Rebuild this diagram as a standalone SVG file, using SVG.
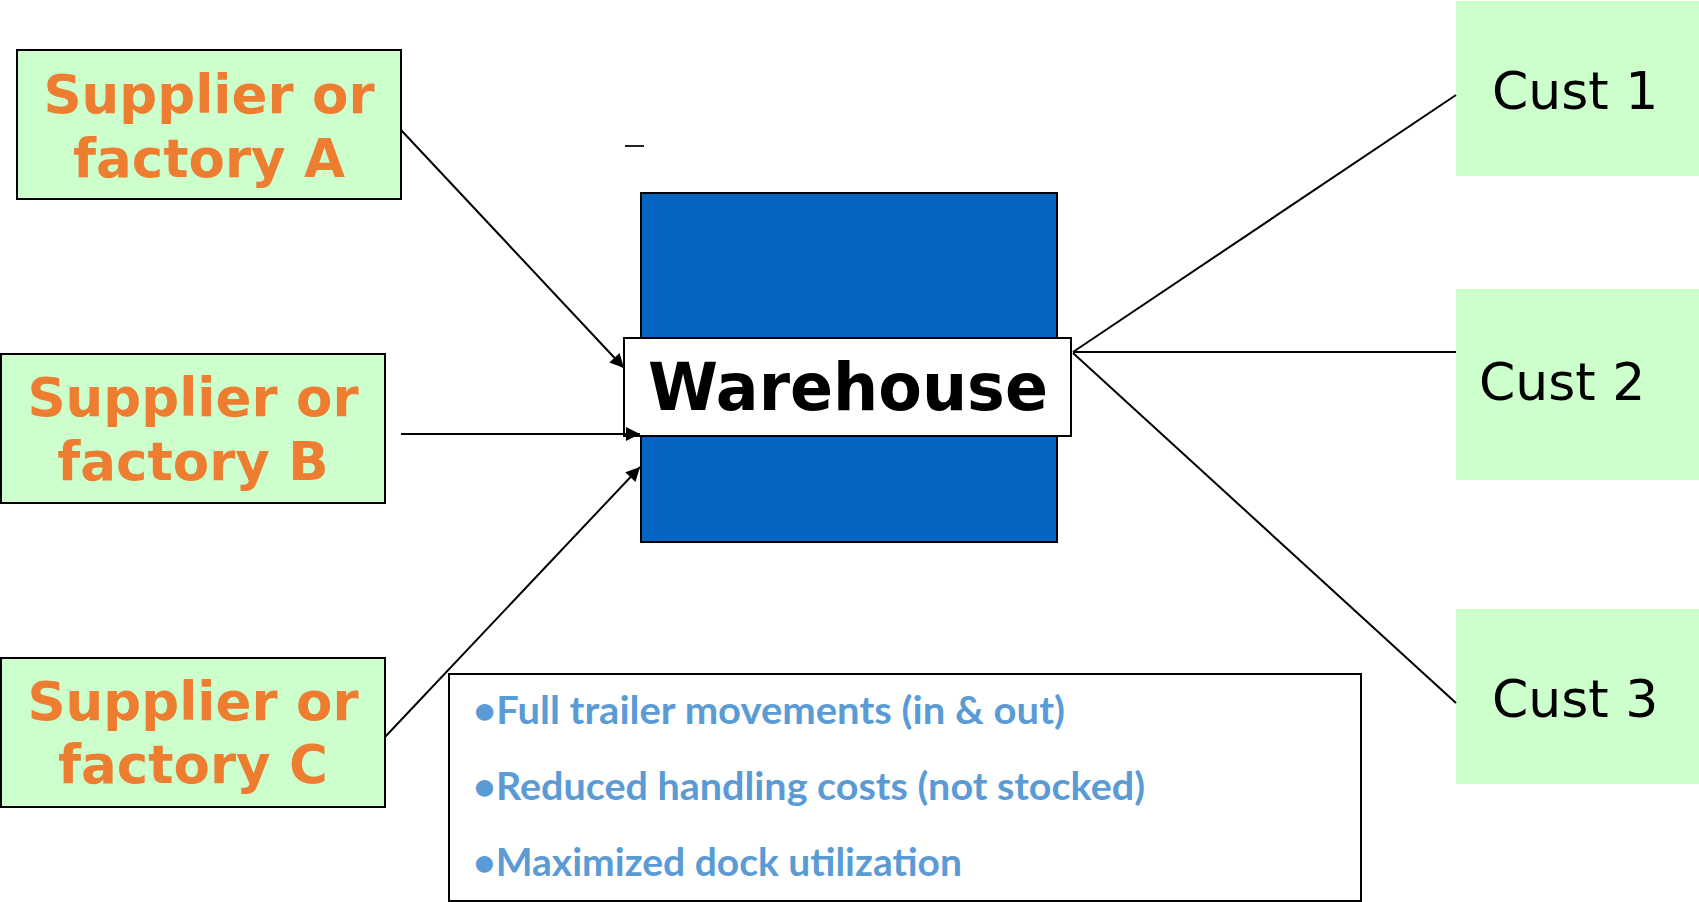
<svg xmlns="http://www.w3.org/2000/svg" width="1699" height="902" viewBox="0 0 1699 902">
<style>
.sup{fill:#CCFFCC;stroke:#000;stroke-width:2}
.cust{fill:#CCFFCC;stroke:none}
.st{font-family:"DejaVu Sans","Verdana",sans-serif;font-weight:bold;font-size:53px;fill:#ED7D31;text-anchor:middle}
.ct{font-family:"DejaVu Sans","Verdana",sans-serif;font-size:52px;fill:#000}
.bt{font-family:Lato,"Open Sans",sans-serif;font-weight:bold;font-size:39px;fill:#5B9BD5}
.conn{stroke:#000;stroke-width:2;fill:none}
</style>
<defs>
<marker id="ah" viewBox="0 0 10 10" refX="10" refY="5" markerWidth="8" markerHeight="7" markerUnits="strokeWidth" orient="auto">
<path d="M0,0 L10,5 L0,10 z" fill="#000"/>
</marker>
</defs>
<rect width="1699" height="902" fill="#fff"/>
<line x1="625" y1="146" x2="644" y2="146" stroke="#222" stroke-width="2"/>
<g id="warehouse">
<rect x="641" y="193" width="416" height="349" fill="#0565C0" stroke="#000" stroke-width="2"/>
<rect x="624" y="338" width="447" height="98" fill="#fff" stroke="#000" stroke-width="2"/>
<text x="848" y="410" font-family="DejaVu Sans, Verdana, sans-serif" font-weight="bold" font-size="66" fill="#000" text-anchor="middle" textLength="400" lengthAdjust="spacingAndGlyphs">Warehouse</text>
</g>
<g id="supplierA">
<rect class="sup" x="17" y="50" width="384" height="149"/>
<text class="st" x="209" y="113">Supplier or</text>
<text class="st" x="209" y="177">factory A</text>
</g>
<g id="supplierB">
<rect class="sup" x="1" y="354" width="384" height="149"/>
<text class="st" x="193" y="416">Supplier or</text>
<text class="st" x="193" y="480">factory B</text>
</g>
<g id="supplierC">
<rect class="sup" x="1" y="658" width="384" height="149"/>
<text class="st" x="193" y="720">Supplier or</text>
<text class="st" x="193" y="783">factory C</text>
</g>
<g id="cust1">
<rect class="cust" x="1456" y="1" width="243" height="175"/>
<text class="ct" x="1492" y="109">Cust 1</text>
</g>
<g id="cust2">
<rect class="cust" x="1456" y="289" width="243" height="191"/>
<text class="ct" x="1479" y="400">Cust 2</text>
</g>
<g id="cust3">
<rect class="cust" x="1456" y="609" width="243" height="175"/>
<text class="ct" x="1492" y="717">Cust 3</text>
</g>
<g id="notes">
<rect x="449" y="674" width="912" height="227" fill="#fff" stroke="#000" stroke-width="2"/>
<text class="bt" x="473" y="724" textLength="592" lengthAdjust="spacingAndGlyphs">•Full trailer movements (in &amp; out)</text>
<text class="bt" x="473" y="800" textLength="672" lengthAdjust="spacingAndGlyphs">•Reduced handling costs (not stocked)</text>
<text class="bt" x="473" y="876" textLength="489" lengthAdjust="spacingAndGlyphs">•Maximized dock utilization</text>
</g>
<g id="connectors">
<line class="conn" x1="401" y1="130" x2="624" y2="368" marker-end="url(#ah)"/>
<line class="conn" x1="401" y1="434" x2="640" y2="434" marker-end="url(#ah)"/>
<line class="conn" x1="385" y1="737" x2="640" y2="467" marker-end="url(#ah)"/>
<line class="conn" x1="1073" y1="352" x2="1456" y2="95"/>
<line class="conn" x1="1073" y1="352" x2="1456" y2="352"/>
<line class="conn" x1="1073" y1="353" x2="1456" y2="703"/>
</g>
</svg>
